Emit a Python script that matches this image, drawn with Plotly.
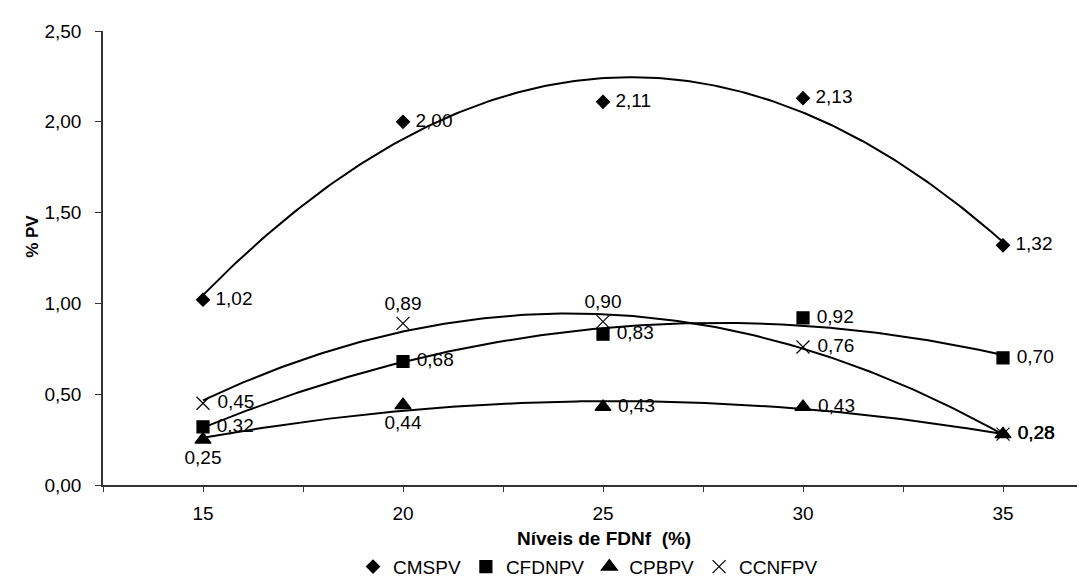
import numpy as np
import plotly.graph_objects as go

x_levels = [15, 20, 25, 30, 35]
series_names = ["CMSPV", "CFDNPV", "CPBPV", "CCNFPV"]
cmspv = [1.02, 2.00, 2.11, 2.13, 1.32]
cfdnpv = [0.32, 0.68, 0.83, 0.92, 0.70]
cpbpv = [0.25, 0.44, 0.43, 0.43, 0.28]
ccnfpv = [0.45, 0.89, 0.90, 0.76, 0.28]
y_ticks = [0, 0.5, 1.0, 1.5, 2.0, 2.5]

series = [cmspv, cfdnpv, cpbpv, ccnfpv]
symbols = ["diamond", "square", "triangle-up", "x-thin-open"]
sizes = [10, 12, 14, 13]
label_pos = [
    ["middle right"] * 5,
    ["middle right"] * 5,
    ["bottom center", "bottom center", "middle right", "middle right", "middle right"],
    ["middle right", "top center", "top center", "middle right", "middle right"],
]

FONT = "Liberation Sans, Arial, sans-serif"
FS = 19
W, H = 1085, 578
L, T, B = 95, 23, 94
plot_w = W - L
plot_h = H - T - B


def px_x(p):
    return (p - L) / plot_w


def px_y(p):
    return (H - B - p) / plot_h


def fmt(v, pos):
    s = f"{v:.2f}".replace(".", ",")
    return " " + s if pos == "middle right" else s


fig = go.Figure()
xs = np.linspace(15, 35, 200)
for vals in series:
    coef = np.polyfit(x_levels, vals, 2)
    fig.add_trace(go.Scatter(x=xs, y=np.polyval(coef, xs), mode="lines",
                             line=dict(color="black", width=2),
                             showlegend=False, hoverinfo="skip"))

for name, vals, sym, sz, pos in zip(series_names, series, symbols, sizes, label_pos):
    fig.add_trace(go.Scatter(
        x=x_levels, y=vals, mode="markers+text", name=name,
        marker=dict(symbol=sym, size=sz, color="black",
                    line=dict(color="black", width=1.2)),
        text=[fmt(v, p) for v, p in zip(vals, pos)],
        textposition=pos,
        textfont=dict(family=FONT, size=FS, color="black"),
        cliponaxis=False,
    ))

tick_vals = [12.5 + 2.5 * i for i in range(11)]
tick_text = [str(int(v)) if v in x_levels else "" for v in tick_vals]

fig.update_layout(
    width=W, height=H,
    margin=dict(l=L, r=0, t=T, b=B),
    paper_bgcolor="white", plot_bgcolor="white",
    separators=",.",
    font=dict(family=FONT, size=FS, color="black"),
    showlegend=True,
    legend=dict(orientation="h", x=px_x(580), xanchor="center",
                y=px_y(567), yanchor="middle",
                font=dict(family=FONT, size=FS), itemwidth=30,
                tracegroupgap=0),
    xaxis=dict(range=[12.5, 12.5 + plot_w / 40.0], showgrid=False, zeroline=False,
               showline=True, linecolor="#333", linewidth=1.5,
               tickvals=tick_vals, ticktext=tick_text,
               ticks="outside", ticklen=5, tickcolor="#333", tickwidth=1,
               ticklabelstandoff=5,
               tickfont=dict(family=FONT, size=FS)),
    yaxis=dict(range=[0, 2.5], showgrid=False, zeroline=False,
               showline=True, linecolor="#333", linewidth=1.5,
               tickvals=y_ticks, tickformat=".2f",
               ticks="outside", ticklen=6, tickcolor="#333", tickwidth=1,
               ticklabelstandoff=10,
               tickfont=dict(family=FONT, size=FS)),
    annotations=[
        dict(text="<b>% PV</b>", x=px_x(25), y=px_y(232), xref="paper", yref="paper",
             textangle=-90, showarrow=False, font=dict(family=FONT, size=17),
             xanchor="center", yanchor="middle"),
        dict(text="<b>Níveis de FDNf  (%)</b>", x=px_x(596), y=px_y(538),
             xref="paper", yref="paper", showarrow=False,
             font=dict(family=FONT, size=FS), xanchor="center", yanchor="middle"),
    ],
)

fig.write_html("out.html")
